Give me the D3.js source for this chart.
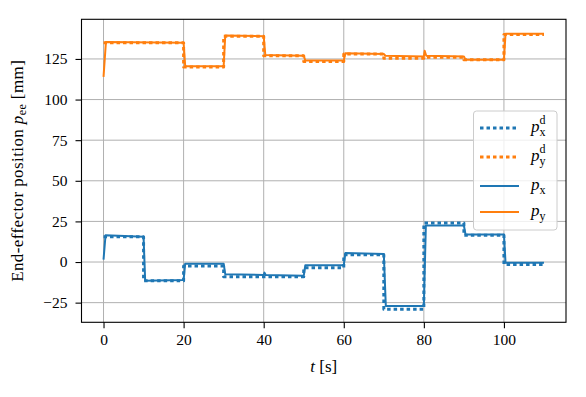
<!DOCTYPE html>
<meta charset="utf-8">
<style>
body { margin: 0; background: #fff; }
text { font-family: "Liberation Serif", "DejaVu Serif", serif; fill: #000; }
.tick text { font-size: 15px; }
.grid line { stroke: #b0b0b0; stroke-width: 1; }
</style>
<body>
<script src="https://cdn.jsdelivr.net/npm/d3@7"></script>
<script>

// desired (step) trajectories
var desT = [0, 10, 20, 30, 40, 50, 60, 70, 80, 90, 100, 110];
var pxDes = [15.5, -11.5, -2.5, -9, -9, -3.5, 4.5, -29, 24, 16.5, -1.5, -1.5];
var pyDes = [135, 135, 120, 139, 127, 123.5, 128, 125.5, 126, 124.5, 140, 140];

// measured trajectories
var pxT = [0, 0.5, 10, 10.4, 20, 20.4, 30, 30.4, 40, 40.2, 40.5, 50, 50.4, 60, 60.4, 70, 70.5, 80, 80.5, 90, 90.4, 100, 100.4, 110];
var pxAct = [1.5, 16.5, 15.5, -11.5, -11, -1, -1, -7.5, -8, -6.5, -8, -8.5, -2, -2, 5.5, 5, -27, -27, 22.5, 22.5, 17, 17, -0.5, -0.5];
var pyT = [0, 0.6, 20, 20.4, 30, 30.4, 40, 40.4, 50, 50.4, 60, 60.4, 70, 70.4, 80, 80.2, 80.6, 90, 90.4, 100, 100.4, 110];
var pyAct = [114, 135.5, 135, 120.5, 120.5, 139.5, 139, 127.5, 127, 124, 124, 128.5, 128, 127, 126.5, 130, 127, 126.5, 124.5, 124.5, 140.5, 140.5];

var xTicks = [0, 20, 40, 60, 80, 100];
var yTicks = [-25, 0, 25, 50, 75, 100, 125];

var width = 586, height = 397;
var mLeft = 81.5, mRight = 566, mTop = 19.3, mBottom = 322.3;

var blue = "#1f77b4", orange = "#ff7f0e";

var x = d3.scaleLinear().domain([-5.5, 115.5]).range([mLeft, mRight]);
var y = d3.scaleLinear().domain([-37.1, 149.4]).range([mBottom, mTop]);

var svg = d3.select("body").append("svg")
    .attr("width", width)
    .attr("height", height);

// grid
var grid = svg.append("g").attr("class", "grid");
grid.selectAll(".gx").data(xTicks).enter().append("line")
    .attr("x1", function(d) { return x(d); }).attr("x2", function(d) { return x(d); })
    .attr("y1", mTop).attr("y2", mBottom);
grid.selectAll(".gy").data(yTicks).enter().append("line")
    .attr("y1", function(d) { return y(d); }).attr("y2", function(d) { return y(d); })
    .attr("x1", mLeft).attr("x2", mRight);

var fmt = function(d) { return d < 0 ? "\u2212" + Math.abs(d) : d; };

var xAxis = svg.append("g")
    .attr("transform", "translate(0," + mBottom + ")")
    .call(d3.axisBottom(x).tickValues(xTicks).tickSize(6).tickPadding(6).tickFormat(fmt));
var yAxis = svg.append("g")
    .attr("transform", "translate(" + mLeft + ",0)")
    .call(d3.axisLeft(y).tickValues(yTicks).tickSize(6).tickPadding(8).tickFormat(fmt));
xAxis.select(".domain").remove();
yAxis.select(".domain").remove();
svg.selectAll(".tick line").attr("stroke", "#000").attr("stroke-width", 1.1);
svg.selectAll(".tick text").attr("font-family", null).style("font-size", "15.5px");

// lines
var stepLine = d3.line()
    .x(function(d) { return x(d[0]); })
    .y(function(d) { return y(d[1]); })
    .curve(d3.curveStepAfter);
var plainLine = d3.line()
    .x(function(d) { return x(d[0]); })
    .y(function(d) { return y(d[1]); });

var plot = svg.append("g");
var series = [
  { pts: d3.zip(desT, pxDes), gen: stepLine, color: blue, dotted: true },
  { pts: d3.zip(desT, pyDes), gen: stepLine, color: orange, dotted: true },
  { pts: d3.zip(pxT, pxAct), gen: plainLine, color: blue, dotted: false },
  { pts: d3.zip(pyT, pyAct), gen: plainLine, color: orange, dotted: false }
];
series.forEach(function(s) {
  plot.append("path")
      .attr("d", s.gen(s.pts))
      .attr("fill", "none")
      .attr("stroke", s.color)
      .attr("stroke-width", s.dotted ? 3 : 2)
      .attr("stroke-dasharray", s.dotted ? "3.5,3" : null)
      .attr("stroke-linejoin", "round");
});

// frame
svg.append("rect")
    .attr("x", mLeft).attr("y", mTop)
    .attr("width", mRight - mLeft).attr("height", mBottom - mTop)
    .attr("fill", "none").attr("stroke", "#000").attr("stroke-width", 1.1);

// axis labels
var xl = svg.append("text")
    .attr("x", (mLeft + mRight) / 2).attr("y", 372)
    .attr("text-anchor", "middle").style("font-size", "17px");
xl.append("tspan").attr("font-style", "italic").text("t");
xl.append("tspan").text(" [s]");

var yl = svg.append("text")
    .attr("transform", "translate(23," + ((mTop + mBottom) / 2) + ") rotate(-90)")
    .attr("text-anchor", "middle").style("font-size", "17px")
    .attr("letter-spacing", "0.4px");
yl.append("tspan").text("End-effector position ");
yl.append("tspan").attr("font-style", "italic").text("p");
yl.append("tspan").attr("dy", 3).style("font-size", "12px").text("ee");
yl.append("tspan").attr("dy", -3).text(" [mm]");

// legend
var legend = svg.append("g");
legend.append("rect")
    .attr("x", 473.5).attr("y", 111).attr("width", 83.5).attr("height", 119)
    .attr("rx", 3).attr("fill", "#fff").attr("fill-opacity", 0.8)
    .attr("stroke", "#cccccc").attr("stroke-width", 1);

var legItems = [
  { color: blue, dotted: true, sub: "x", sup: "d", yy: 128 },
  { color: orange, dotted: true, sub: "y", sup: "d", yy: 157 },
  { color: blue, dotted: false, sub: "x", sup: null, yy: 186 },
  { color: orange, dotted: false, sub: "y", sup: null, yy: 212 }
];
legItems.forEach(function(it) {
  legend.append("line")
      .attr("x1", 480).attr("x2", 519)
      .attr("y1", it.yy).attr("y2", it.yy)
      .attr("stroke", it.color)
      .attr("stroke-width", it.dotted ? 3 : 2)
      .attr("stroke-dasharray", it.dotted ? "3.5,3" : null);
  var t = legend.append("text").attr("x", 531).attr("y", it.yy + 4).style("font-size", "17px");
  t.append("tspan").attr("font-style", "italic").text("p");
  if (it.sup) {
    t.append("tspan").attr("dy", -8).style("font-size", "12px").text(it.sup);
    t.append("tspan").attr("dx", -6).attr("dy", 12).style("font-size", "12px").text(it.sub);
  } else {
    t.append("tspan").attr("dy", 4).style("font-size", "12px").text(it.sub);
  }
});

</script>
